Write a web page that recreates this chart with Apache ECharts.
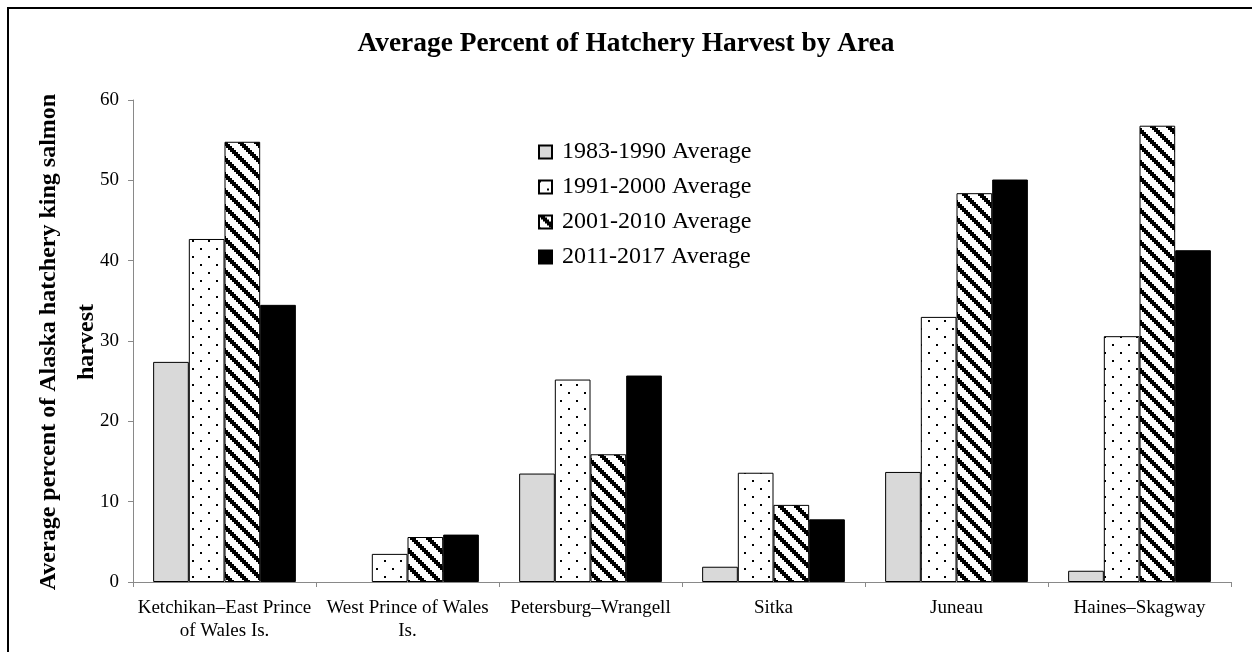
<!DOCTYPE html>
<html>
<head>
<meta charset="utf-8">
<script src="https://cdn.jsdelivr.net/npm/echarts@6/dist/echarts.min.js"></script>
<style>
html,body{margin:0;padding:0;background:#fff;}
#chart{width:1252px;height:652px;}
</style>
</head>
<body>
<div id="chart"></div>
<script>
const categories = ['Ketchikan–East Prince\nof Wales Is.', 'West Prince of Wales\nIs.', 'Petersburg–Wrangell', 'Sitka', 'Juneau', 'Haines–Skagway'];
const seriesNames = ['1983-1990 Average', '1991-2000 Average', '2001-2010 Average', '2011-2017 Average'];
const avg1983_1990 = [27.4, null, 13.5, 1.9, 13.7, 1.4];
const avg1991_2000 = [42.7, 3.5, 25.2, 13.6, 33.0, 30.6];
const avg2001_2010 = [54.8, 5.6, 15.9, 9.6, 48.4, 56.8];
const avg2011_2017 = [34.5, 5.9, 25.7, 7.8, 50.1, 41.3];
const yTicks = [0, 10, 20, 30, 40, 50, 60];

const SERIF = '"Liberation Serif", "Times New Roman", serif';

function dotPattern() {
  const c = document.createElement('canvas');
  c.width = 16; c.height = 16;
  const g = c.getContext('2d');
  g.fillStyle = '#fff'; g.fillRect(0, 0, 16, 16);
  g.fillStyle = '#000';
  g.fillRect(0, 0, 2, 2);
  g.fillRect(8, 8, 2, 2);
  return c;
}
function diagPattern() {
  const c = document.createElement('canvas');
  c.width = 16; c.height = 16;
  const g = c.getContext('2d');
  g.fillStyle = '#fff'; g.fillRect(0, 0, 16, 16);
  g.fillStyle = '#000';
  for (let bx = 0; bx < 8; bx++) {
    for (let by = 0; by < 8; by++) {
      if (((bx - by) % 8 + 8) % 8 < 3) g.fillRect(bx * 2, by * 2, 2, 2);
    }
  }
  return c;
}

const fills = [
  '#d9d9d9',
  { image: dotPattern(), repeat: 'repeat' },
  { image: diagPattern(), repeat: 'repeat' },
  '#000000'
];
const dataSets = [avg1983_1990, avg1991_2000, avg2001_2010, avg2011_2017];

const chart = echarts.init(document.getElementById('chart'), null, { renderer: 'canvas' });
chart.setOption({
  animation: false,
  backgroundColor: '#fff',
  title: {
    text: 'Average Percent of Hatchery Harvest by Area',
    left: 'center',
    top: 30,
    padding: 0,
    textStyle: { fontFamily: SERIF, fontWeight: 'bold', fontSize: 27.4, color: '#000' }
  },
  legend: {
    orient: 'vertical',
    left: 538,
    top: 140,
    padding: 0,
    itemWidth: 13,
    itemHeight: 13,
    itemGap: 11,
    icon: 'rect',
    data: seriesNames,
    textStyle: { fontFamily: SERIF, fontSize: 24, color: '#000', padding: [0, 0, 0, 5] }
  },
  grid: { left: 133, right: 21, top: 100, bottom: 70, containLabel: false },
  xAxis: {
    type: 'category',
    data: categories,
    axisLine: { lineStyle: { color: '#898989', width: 1 } },
    axisTick: { show: true, length: 5, lineStyle: { color: '#898989' } },
    axisLabel: {
      interval: 0,
      margin: 15,
      fontFamily: SERIF,
      fontSize: 19,
      lineHeight: 23,
      color: '#000',
      align: 'center'
    }
  },
  yAxis: {
    type: 'value',
    min: 0,
    max: 60,
    interval: 10,
    splitLine: { show: false },
    axisLine: { show: true, lineStyle: { color: '#898989', width: 1 } },
    axisTick: { show: true, length: 5, lineStyle: { color: '#898989' } },
    axisLabel: {
      margin: 14,
      fontFamily: SERIF,
      fontSize: 19,
      color: '#000',
      formatter: function (v) { return yTicks.indexOf(v) >= 0 ? String(v) : ''; }
    }
  },
  graphic: [
    {
      type: 'rect',
      shape: { x: 8, y: 8, width: 1260, height: 660 },
      style: { fill: 'none', stroke: '#000', lineWidth: 2 },
      silent: true
    },
    {
      type: 'text',
      x: 68,
      y: 342,
      rotation: Math.PI / 2,
      style: {
        text: 'Average percent of Alaska hatchery king salmon\nharvest',
        font: 'bold 24px ' + SERIF,
        fill: '#000',
        textAlign: 'center',
        textVerticalAlign: 'middle',
        lineHeight: 38
      }
    }
  ],
  series: dataSets.map(function (d, i) {
    return {
      name: seriesNames[i],
      type: 'bar',
      data: d,
      barGap: '0%',
      barCategoryGap: '22%',
      itemStyle: { color: fills[i], borderColor: '#000', borderWidth: 1 }
    };
  })
});
</script>
</body>
</html>
